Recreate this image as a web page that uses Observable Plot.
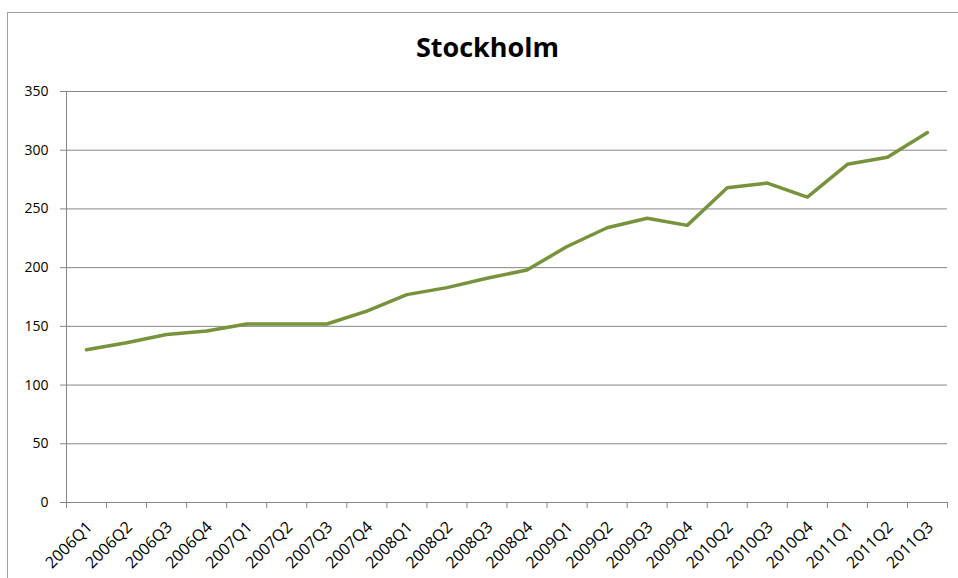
<!DOCTYPE html>
<html>
<head>
<meta charset="utf-8">
<script src="https://cdn.jsdelivr.net/npm/d3@7"></script>
<script src="https://cdn.jsdelivr.net/npm/@observablehq/plot@0.6"></script>
<style>
  html, body { margin: 0; padding: 0; background: #fff; }
  #wrap { position: relative; width: 958px; height: 578px; overflow: hidden; font-family: "Open Sans", "Liberation Sans", sans-serif; }
  #frame { position: absolute; left: 7px; top: 12px; width: 1200px; height: 1200px; border-left: 1px solid #a0a0a0; border-top: 1px solid #a0a0a0; }
  #title { position: relative; height: 70px; width: 975px; text-align: center; font-weight: bold; font-size: 27px; line-height: 27px; box-sizing: border-box; }
  #title span { position: absolute; left: 0; right: 0; top: 33px; }
  #chart { position: relative; }
</style>
</head>
<body>
<div id="wrap">
  <div id="frame"></div>
  <div id="title"><span>Stockholm</span></div>
  <div id="chart"></div>
</div>
<script>
const quarters = ["2006Q1","2006Q2","2006Q3","2006Q4","2007Q1","2007Q2","2007Q3","2007Q4",
  "2008Q1","2008Q2","2008Q3","2008Q4","2009Q1","2009Q2","2009Q3","2009Q4",
  "2010Q2","2010Q3","2010Q4","2011Q1","2011Q2","2011Q3"];
const values = [130,136,143,146,152,152,152,163,177,183,191,198,218,234,242,236,268,272,260,288,294,315];
const yTicks = [0,50,100,150,200,250,300,350];

const data = quarters.map((q, i) => ({i, q, v: values[i]}));
const idx = quarters.map((q, i) => i);
const edges = [...idx.map(i => i - 0.5), quarters.length - 0.5];
const gray = "#868686";

const chart = Plot.plot({
  width: 958,
  height: 508,
  marginTop: 21,
  marginBottom: 76,
  marginLeft: 66,
  marginRight: 11,
  x: {domain: [-0.5, quarters.length - 0.5]},
  y: {domain: [0, 350]},
  style: {fontFamily: "'Open Sans', 'Liberation Sans', sans-serif", fontSize: "14px", color: "#000", background: "transparent", overflow: "visible"},
  marks: [
    Plot.gridY(yTicks, {stroke: gray, strokeOpacity: 1, strokeWidth: 1}),
    Plot.axisY({ticks: yTicks, tickSize: 6, tickPadding: 12, stroke: gray, strokeOpacity: 1, label: null, fontSize: 14}),
    Plot.axisX({ticks: edges, tickSize: 6, tickFormat: () => "", stroke: gray, strokeOpacity: 1, label: null}),
    Plot.axisX({ticks: idx, tickSize: 0, tickPadding: 22, dx: 3, tickRotate: -45, tickFormat: i => quarters[i], label: null, fontSize: 16}),
    Plot.ruleX([-0.5], {stroke: gray}),
    Plot.ruleY([0], {stroke: gray}),
    Plot.line(data, {x: "i", y: "v", stroke: "#77933C", strokeWidth: 3.5, strokeLinejoin: "round"})
  ]
});
document.getElementById("chart").appendChild(chart);
</script>
</body>
</html>
